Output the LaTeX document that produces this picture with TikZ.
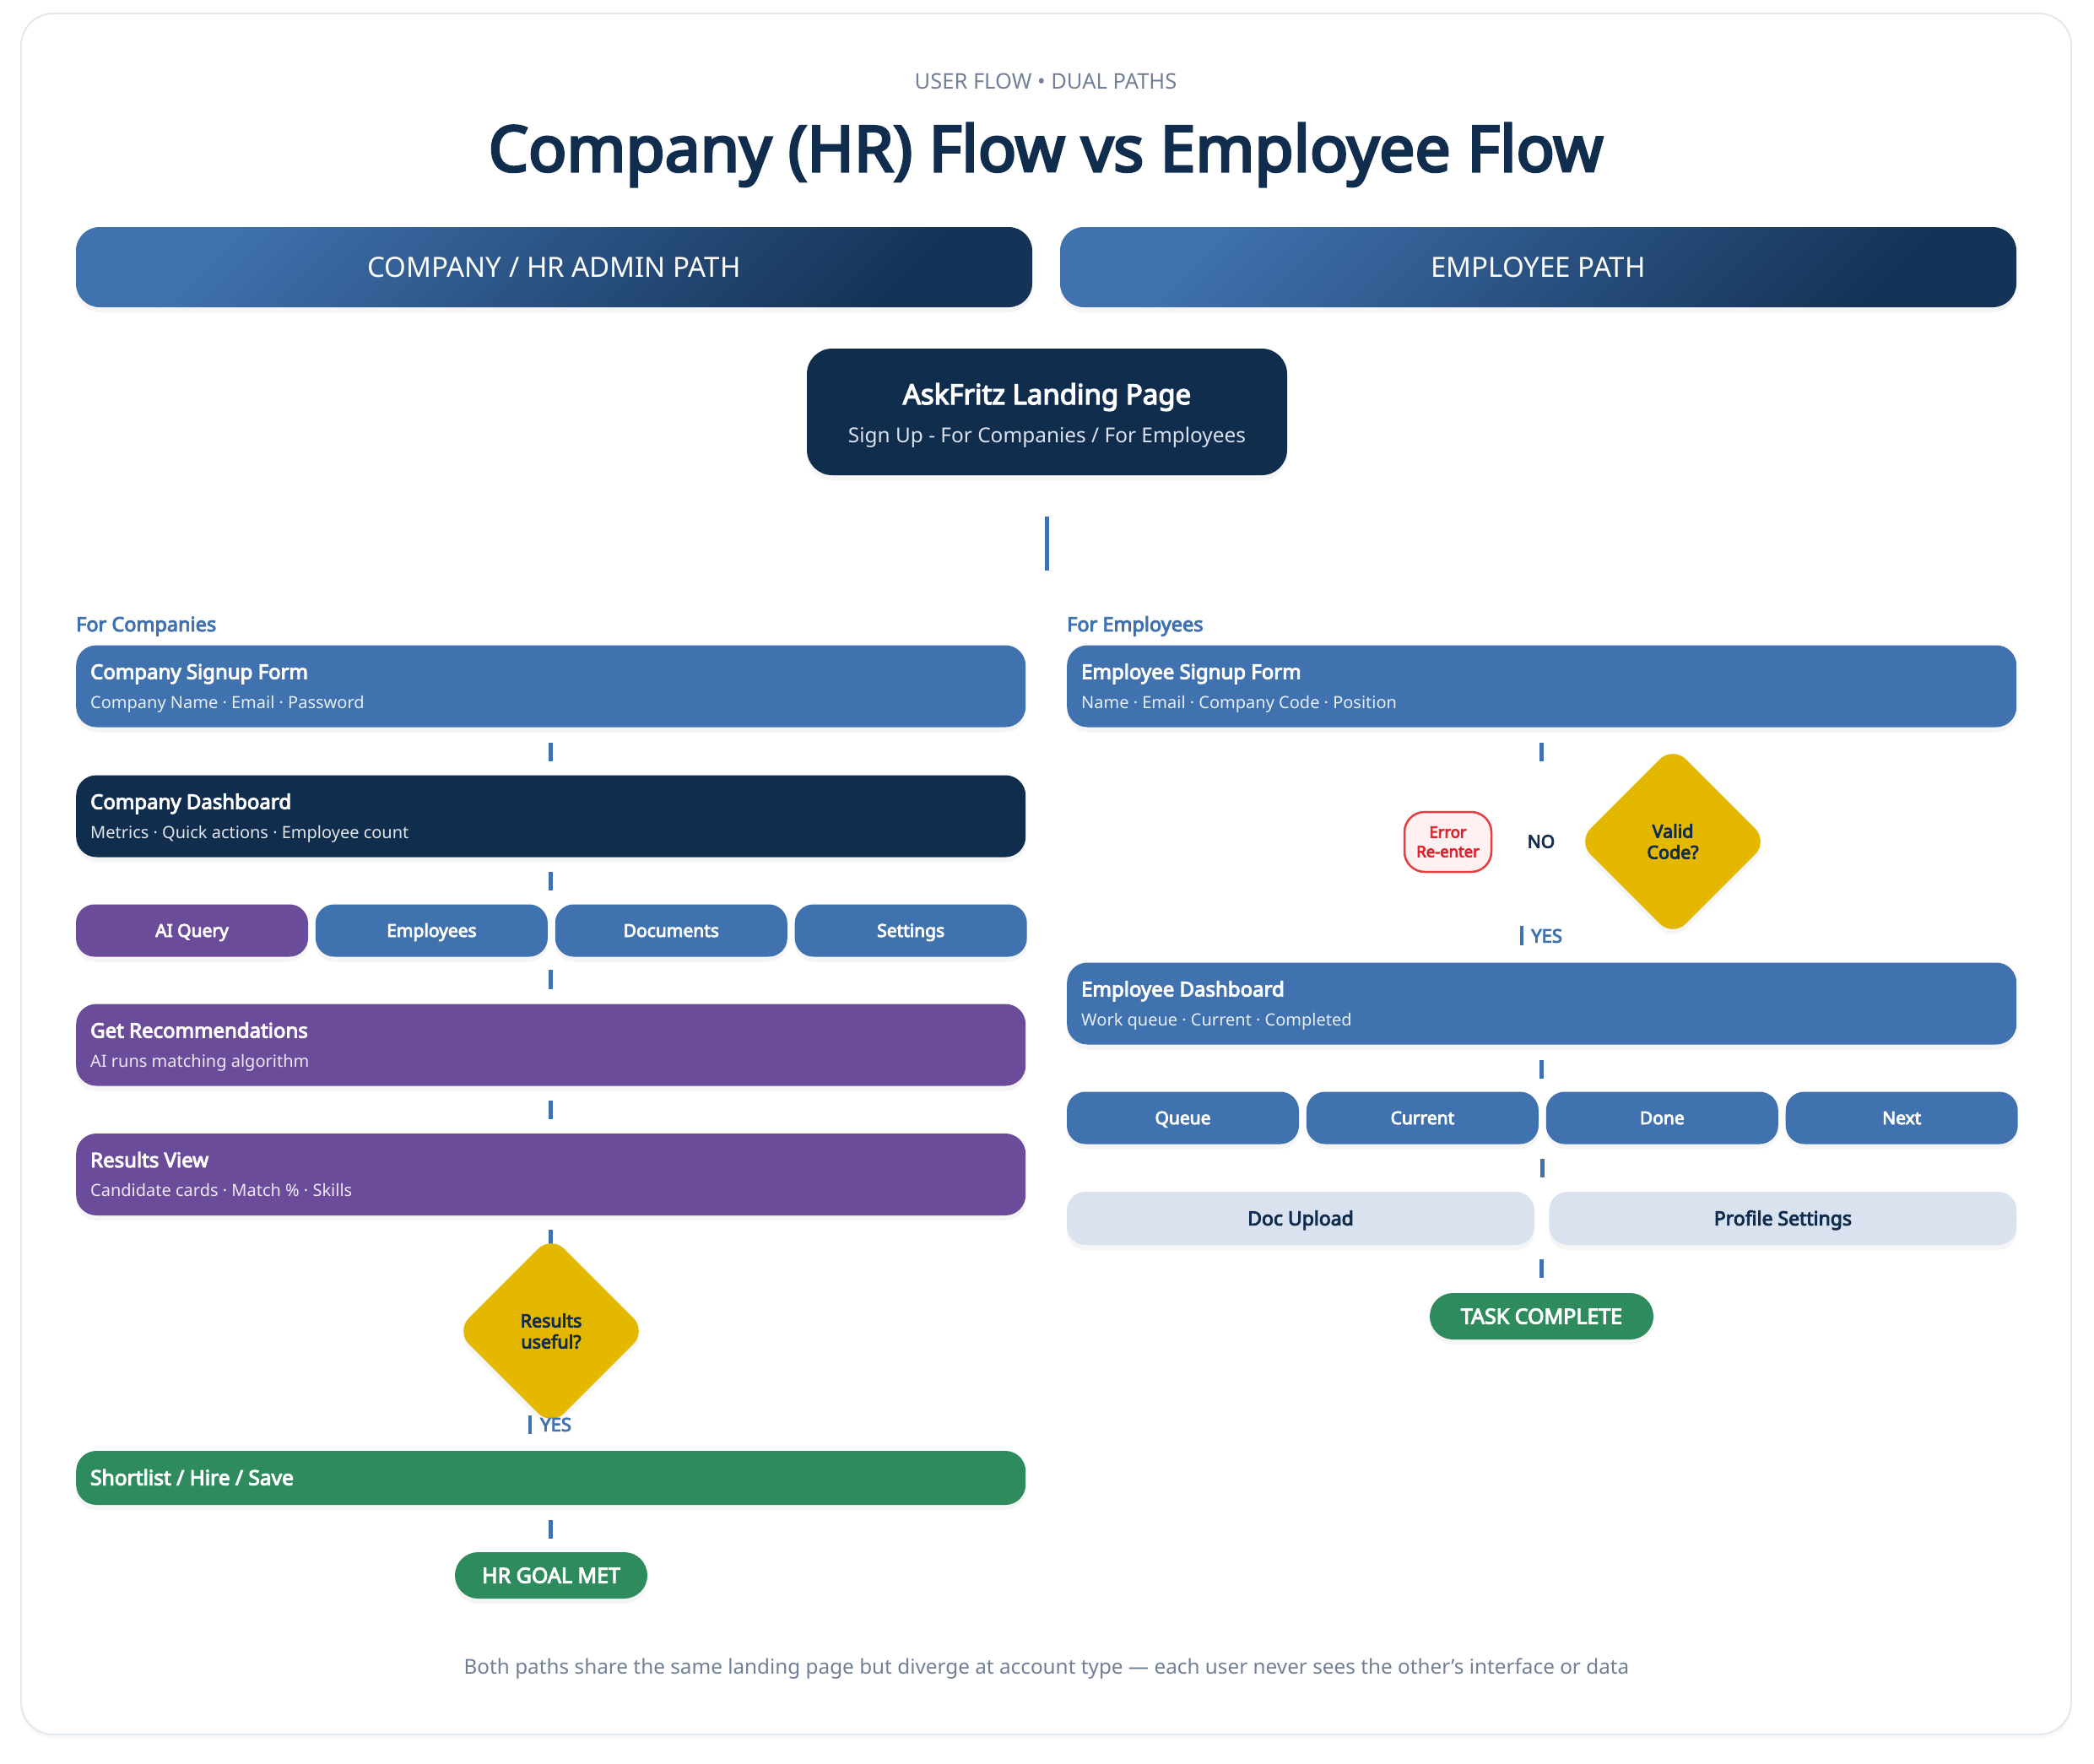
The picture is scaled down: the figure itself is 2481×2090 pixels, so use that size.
\documentclass[tikz,border=0pt]{standalone}
\usepackage{fontspec}
\setmainfont{Noto Sans}[BoldFont={Noto Sans}, BoldFeatures={FakeBold=4}]
\usetikzlibrary{positioning, calc, shapes.geometric, shadows}

\definecolor{hrnavy}{HTML}{112D4E}
\definecolor{hrblue}{HTML}{3F72AF}
\definecolor{hrlight}{HTML}{DBE2EF}
\definecolor{hrpurple}{HTML}{6B4C9A}
\definecolor{hrgold}{HTML}{E5B800}
\definecolor{hrgreen}{HTML}{2E8B5E}
\definecolor{errred}{HTML}{E53E3E}
\definecolor{errtext}{HTML}{E0202A}
\definecolor{errfill}{HTML}{FFF1F1}
\definecolor{muted}{HTML}{718096}
\definecolor{rim}{HTML}{E2E8F0}

\newcommand\pxfont[1]{\fontsize{#1}{#1}\selectfont}
% box with a bold title and a small line under it
\newcommand\flowcard[5]{%
  \node[cardbox, fill=#3, anchor=west] (#1) at #2 {};
  \node[cardttl, anchor=base west] (#1-ttl) at ($(#1.west)+(17,-8.5)$) {#4};
  \node[cardsub, anchor=base west] (#1-sub) at ($(#1.west)+(17,26)$) {#5};}

\begin{document}
\begin{tikzpicture}[x=1pt, y=-1pt,
    every node/.style={inner sep=0pt},
    soft/.style={drop shadow={shadow xshift=0pt, shadow yshift=-6pt, opacity=0.08}},
    panel/.style={draw=rim, line width=2pt, fill=white, rounded corners=38pt,
                  drop shadow={shadow xshift=0pt, shadow yshift=-5pt, opacity=0.05}},
    kicker/.style={anchor=base, text=muted, font=\pxfont{25.5}},
    headline/.style={anchor=base, text=hrnavy, font=\pxfont{75}\bfseries},
    pathhdr/.style={rectangle, rounded corners=28pt, minimum width=1133pt, minimum height=95pt,
                    top color=hrblue, bottom color=hrnavy!92!hrblue, shading angle=45, soft,
                    text=white, font=\pxfont{33}, text height=23.5pt, text depth=0pt},
    landing/.style={rectangle, rounded corners=30pt, fill=hrnavy,
                    minimum width=569pt, minimum height=150pt, soft},
    lane/.style={anchor=base west, text=hrblue, font=\pxfont{23.5}\bfseries},
    cardbox/.style={rectangle, rounded corners=24pt, minimum width=1125pt, minimum height=97pt, soft},
    cardttl/.style={text=white, font=\pxfont{24}\bfseries},
    cardsub/.style={text=white, text opacity=0.88, font=\pxfont{20}},
    tab/.style={rectangle, rounded corners=22pt, minimum width=275pt, minimum height=62pt,
                fill=hrblue, soft, text=white, font=\pxfont{21}\bfseries,
                text height=15pt, text depth=0pt},
    lighttab/.style={tab, minimum width=554pt, minimum height=63pt, fill=hrlight,
                     text=hrnavy, font=\pxfont{23}\bfseries, text height=16.5pt},
    goal/.style={rectangle, rounded corners=27.5pt, minimum height=55pt, fill=hrgreen, soft,
                 text=white, font=\pxfont{25}\bfseries, text height=18pt, text depth=0pt},
    decision/.style={diamond, rounded corners=22pt, minimum width=226pt, minimum height=226pt,
                     fill=hrgold, soft, align=center, text=hrnavy,
                     font=\fontsize{21.5}{25}\selectfont\bfseries},
    errbox/.style={rectangle, rounded corners=24pt, minimum width=103pt, minimum height=71pt,
                   draw=errred, line width=2.5pt, fill=errfill, align=center, text=errtext,
                   font=\fontsize{18.5}{23}\selectfont\bfseries},
    stub/.style={draw=hrblue, line width=4.5pt},
    answer/.style={anchor=west, text=hrblue, font=\pxfont{22}\bfseries,
                   text height=15.5pt, text depth=0pt}
]
\useasboundingbox (0,0) rectangle (2481,2090);
\fill[white] (0,0) rectangle (2481,2090);
\draw[panel] (25,16) rectangle (2454,2055);

% heading
\node[kicker] (kicker) at (1239,106) {USER FLOW • DUAL PATHS};
\node[headline] (headline) at (1239,203) {Company (HR) Flow vs Employee Flow};

\node[pathhdr] (hrhdr) at (656.5,316.5) {COMPANY / HR ADMIN PATH};
\node[pathhdr] (emphdr) at (1822.5,316.5) {EMPLOYEE PATH};

% shared entry
\node[landing] (landing) at (1240.5,488) {};
\node[anchor=base, text=white, font=\pxfont{33}\bfseries] (landing-ttl) at (1240.5,479) {AskFritz Landing Page};
\node[anchor=base, text=hrlight, font=\pxfont{24.4}] (landing-sub) at (1240.5,524) {Sign Up - For Companies / For Employees};
\draw[stub] ($(landing.south)+(0,49)$) -- ++(0,64);

% company side
\node[lane] (forco) at (90,748) {For Companies};
\flowcard{csign}{(90,813)}{hrblue}{Company Signup Form}{Company Name · Email · Password}
\draw[stub] ($(csign.south)+(0,18)$) -- ++(0,22);
\flowcard{cdash}{(90,967)}{hrnavy}{Company Dashboard}{Metrics · Quick actions · Employee count}
\draw[stub] ($(cdash.south)+(0,17)$) -- ++(0,22);
\node[tab, fill=hrpurple] (tquery) at (227.5,1102.5) {AI Query};
\node[tab, right=8.5pt of tquery] (temps) {Employees};
\node[tab, right=8.5pt of temps] (tdocs) {Documents};
\node[tab, right=8.5pt of tdocs] (tsets) {Settings};
\flowcard{crecs}{(90,1238)}{hrpurple}{Get Recommendations}{AI runs matching algorithm}
\draw[stub] ($(crecs.north)+(0,-40)$) -- ++(0,23);
\draw[stub] ($(crecs.south)+(0,17.5)$) -- ++(0,22);
\flowcard{cres}{(90,1391.5)}{hrpurple}{Results View}{Candidate cards · Match \% · Skills}
\draw[stub] ($(cres.south)+(0,17)$) -- ++(0,24);
\node[decision] (useful) at (653,1577) {Results\\useful?};
\coordinate (uyes-a) at (628,1677);
\coordinate (uyes-b) at (628,1699);
\draw[stub] (uyes-a) -- (uyes-b);
\node[answer] (uyes) at (640,1688) {YES};
\node[cardbox, minimum height=64pt, fill=hrgreen, anchor=west] (cshort) at (90,1751) {};
\node[cardttl, anchor=base west, font=\pxfont{24.5}\bfseries] (cshort-ttl) at (107,1759.5) {Shortlist / Hire / Save};
\draw[stub] ($(cshort.south)+(0,18)$) -- ++(0,22);
\node[goal, minimum width=228pt] (hrgoal) at (653,1866.5) {HR GOAL MET};

% employee side
\node[lane] (foremp) at (1264,748) {For Employees};
\flowcard{esign}{(1264,813)}{hrblue}{Employee Signup Form}{Name · Email · Company Code · Position}
\draw[stub] ($(esign.south)+(0,18)$) -- ++(0,22);
\node[errbox] (err) at (1715.5,997.5) {Error\\Re-enter};
\node[text=hrnavy, font=\pxfont{21}\bfseries, text height=15pt, text depth=0pt] (no) at (1826,997) {NO};
\node[decision] (valid) at (1982,997) {Valid\\Code?};
\coordinate (vyes-a) at (1803,1097);
\coordinate (vyes-b) at (1803,1120);
\draw[stub] (vyes-a) -- (vyes-b);
\node[answer] (vyes) at (1814,1109) {YES};
\flowcard{edash}{(1264,1189)}{hrblue}{Employee Dashboard}{Work queue · Current · Completed}
\draw[stub] ($(edash.south)+(0,18)$) -- ++(0,22);
\node[tab] (tqueue) at (1401.5,1324.5) {Queue};
\node[tab, right=8.5pt of tqueue] (tcurrent) {Current};
\node[tab, right=8.5pt of tcurrent] (tdone) {Done};
\node[tab, right=8.5pt of tdone] (tnext) {Next};
\draw[stub] ($(tqueue.south)!0.5!(tnext.south)$) ++(0,17) -- ++(0,22);
\node[lighttab] (docup) at (1541,1443.5) {Doc Upload};
\node[lighttab, right=17pt of docup] (profset) {Profile Settings};
\draw[stub] ($(docup.south east)!0.5!(profset.south west)$) ++(0,17) -- ++(0,22);
\node[goal, minimum width=265pt] (taskdone) at (1826.5,1559.5) {TASK COMPLETE};

\node[anchor=base, text=muted, font=\pxfont{24.3}] (footnote) at (1240,1983)
  {Both paths share the same landing page but diverge at account type — each user never sees the other's interface or data};
\end{tikzpicture}
\end{document}
